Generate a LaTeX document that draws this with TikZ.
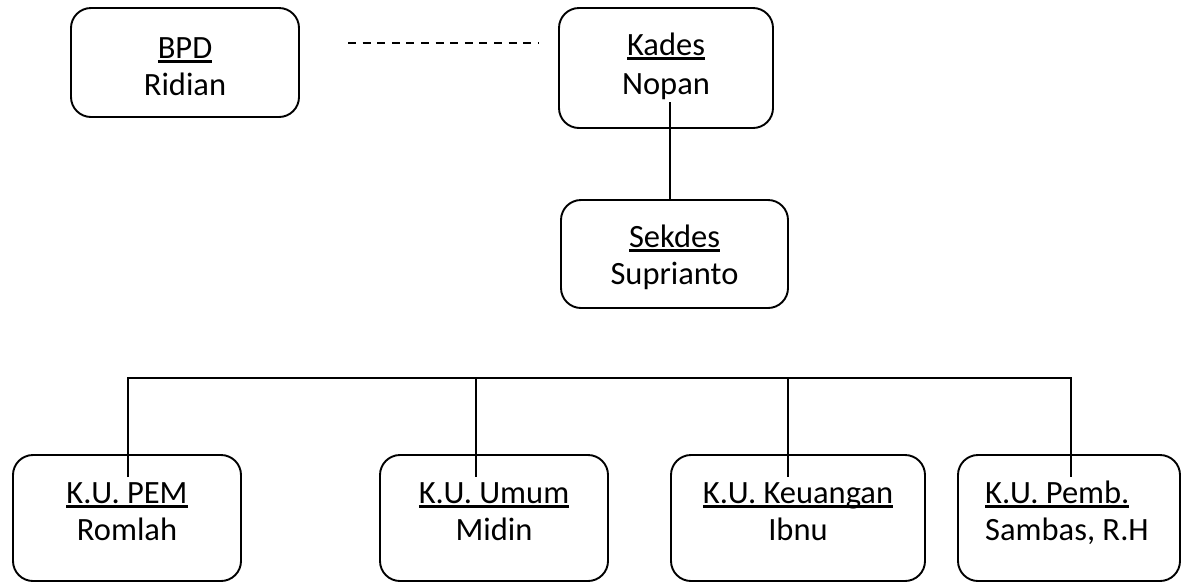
\documentclass[tikz,border=0pt]{standalone}
\usepackage{fontspec}
\setmainfont{Carlito}
\newcommand\myul[1]{\setbox0\hbox{#1}\rlap{\rule[-5pt]{\wd0}{2.8pt}}\box0}
\begin{document}
\begin{tikzpicture}[x=1pt,y=-1pt,
  orgbox/.style 2 args={draw=black, line width=1.9pt, rounded corners=20pt, inner sep=0pt, minimum width=#1, minimum height=#2},
  lbl/.style={anchor=base, inner sep=0pt, font=\fontsize{32.5}{37.5}\selectfont},
  lblw/.style={anchor=base west, inner sep=0pt, font=\fontsize{32.5}{37.5}\selectfont},
  conn/.style={line width=1.9pt},
  dashconn/.style={line width=1.2pt, dash pattern=on 8pt off 6.6pt}]
\useasboundingbox (0,0) rectangle (1182,582);
% boxes
\node[orgbox={228pt}{109pt}] (bpd) at (185,62.5) {};
\node[lbl] (bpdT) at (185,58) {\myul{BPD}};
\node[lbl] (bpdN) at (185,95) {Ridian};
\node[orgbox={214pt}{120pt}] (kades) at (666,68) {};
\node[lbl] (kadesT) at (666,55) {\myul{Kades}};
\node[lbl] (kadesN) at (666,94) {Nopan};
\node[orgbox={227pt}{108pt}] (sekdes) at (674.5,254) {};
\node[lbl] (sekdesT) at (674.5,247) {\myul{Sekdes}};
\node[lbl] (sekdesN) at (674.5,284) {Suprianto};
\node[orgbox={228pt}{126pt}] (pem) at (127,518) {};
\node[lbl] (pemT) at (127,503) {\myul{K.U. PEM}};
\node[lbl] (pemN) at (127,540) {Romlah};
\node[orgbox={228pt}{126pt}] (umum) at (494,518) {};
\node[lbl] (umumT) at (494,503) {\myul{K.U. Umum}};
\node[lbl] (umumN) at (494,540) {Midin};
\node[orgbox={254pt}{126pt}] (keu) at (798,518) {};
\node[lbl] (keuT) at (798,503) {\myul{K.U. Keuangan}};
\node[lbl] (keuN) at (798,540) {Ibnu};
\node[orgbox={222pt}{126pt}] (pemb) at (1069,518) {};
\node[lblw] (pembT) at (985,503) {\myul{K.U. Pemb.}};
\node[lblw] (pembN) at (985,540) {Sambas, R.H};
% connectors
\coordinate (d1) at (348,43);
\coordinate (d2) at (538,43);
\draw[dashconn] (d1) -- (d2);
\coordinate (kx) at (670,102);
\draw[conn] (kx) -- (kx |- sekdes.north);
\coordinate (bL) at (128,378);
\coordinate (b2) at (476,378);
\coordinate (b3) at (788,378);
\coordinate (bR) at (1071,378);
\coordinate (e1) at (128,477);
\coordinate (e2) at (476,477);
\coordinate (e3) at (788,477);
\coordinate (e4) at (1071,477);
\draw[conn] (e1) -- (bL) -- (bR) -- (e4);
\draw[conn] (b2) -- (e2);
\draw[conn] (b3) -- (e3);
\end{tikzpicture}
\end{document}
